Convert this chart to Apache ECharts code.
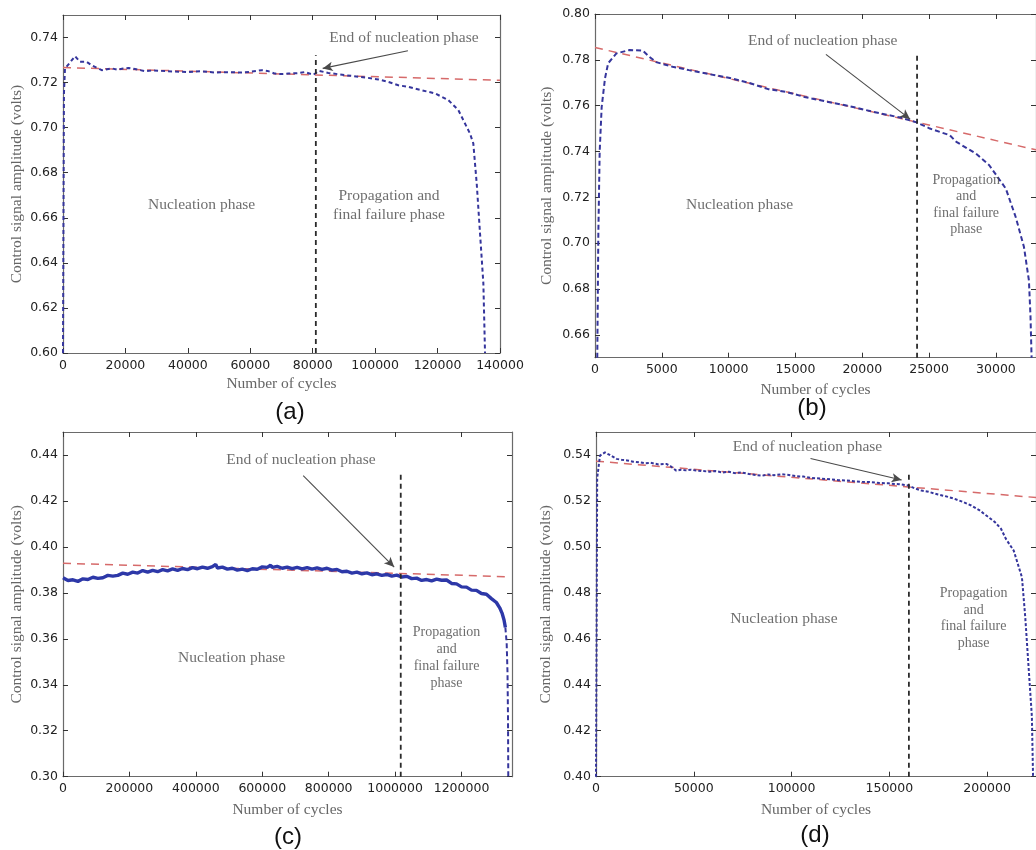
<!DOCTYPE html>
<html><head><meta charset="utf-8">
<script src="https://cdn.jsdelivr.net/npm/echarts@6/dist/echarts.min.js"></script>
<style>html,body{margin:0;padding:0;background:#fff}#c{width:1036px;height:850px}</style>
</head><body><div id="c"></div>
<script>
// ---------- Panel (a) ----------
const aXTicks = [0,20000,40000,60000,80000,100000,120000,140000];
const aYTicks = [0.60,0.62,0.64,0.66,0.68,0.70,0.72,0.74];
const aSignal = [[0,0.600],[150,0.660],[300,0.715],[640,0.7263],[2000,0.7285],[3844,0.7317],[5450,0.7292],[7590,0.7292],[9190,0.7277],[12400,0.7255],[15600,0.7263],[17500,0.7257],[19300,0.7263],[21000,0.7265],[23070,0.7260],[26270,0.7251],[29000,0.7254],[32680,0.7251],[36000,0.7249],[40150,0.7247],[44000,0.7250],[48700,0.7245],[52000,0.7246],[57250,0.7245],[60000,0.7248],[63650,0.7255],[65500,0.7252],[67900,0.7240],[70000,0.7238],[72180,0.7240],[75000,0.7242],[77520,0.7247],[80200,0.7235],[82000,0.7252],[85000,0.7243],[90350,0.7233],[96760,0.7223],[101030,0.7214],[104240,0.7203],[107440,0.7188],[110650,0.7181],[114920,0.7166],[119190,0.7152],[123460,0.7122],[126660,0.7078],[128260,0.7033],[130380,0.6974],[131450,0.6930],[132540,0.6752],[133600,0.6531],[134670,0.6309],[135200,0.6000]];
const aTrend = [[0,0.7267],[140000,0.7210]];
const aPhaseEnd = [[81000,0.600],[81000,0.7321]];
const aArrow = [[110500,0.7341],[83200,0.7263]];
const aTexts = [[109240,0.7398,'End of nucleation phase'],[44400,0.6656,'Nucleation phase'],[104440,0.6656,'Propagation and\nfinal failure phase']];

// ---------- Panel (b) ----------
const bXTicks = [0,5000,10000,15000,20000,25000,30000];
const bYTicks = [0.66,0.68,0.70,0.72,0.74,0.76,0.78,0.80];
const bSignal = [[170,0.6500],[250,0.7040],[350,0.7400],[500,0.7595],[750,0.7720],[985,0.7785],[1600,0.7828],[2600,0.7843],[3580,0.7840],[4070,0.7813],[4570,0.7790],[5800,0.7770],[7040,0.7755],[8500,0.7738],[10000,0.7722],[11500,0.7700],[12960,0.7672],[14300,0.7660],[15680,0.7638],[17300,0.7618],[18890,0.7600],[20100,0.7583],[21360,0.7566],[22840,0.7548],[24070,0.7527],[25060,0.7500],[26540,0.7471],[27040,0.7442],[28520,0.7390],[29500,0.7340],[30120,0.7289],[30740,0.7238],[31480,0.7114],[32100,0.6983],[32470,0.6837],[32590,0.6677],[32670,0.6500]];
const bTrend = [[0,0.7854],[33000,0.7407]];
const bPhaseEnd = [[24100,0.650],[24100,0.7825]];
const bArrow = [[17280,0.7824],[23580,0.7541]];
const bTexts = [[17037,0.7883,'End of nucleation phase'],[10815,0.7168,'Nucleation phase']];
const bProp = [[27778,0.7167,'Propagation\nand\nfinal failure\nphase']];

// ---------- Panel (c) ----------
const cXTicks = [0,200000,400000,600000,800000,1000000,1200000];
const cYTicks = [0.30,0.32,0.34,0.36,0.38,0.40,0.42,0.44];
const cSignal = [[0,0.3866],[15000,0.3854],[30000,0.3857],[45000,0.3850],[60000,0.3861],[75000,0.3858],[90000,0.3868],[105000,0.3863],[120000,0.3866],[135000,0.3876],[150000,0.3873],[165000,0.3876],[180000,0.3886],[195000,0.3881],[210000,0.3890],[225000,0.3886],[240000,0.3897],[255000,0.3890],[270000,0.3898],[285000,0.3892],[300000,0.3901],[315000,0.3896],[330000,0.3904],[345000,0.3898],[360000,0.3906],[375000,0.3901],[390000,0.3910],[405000,0.3905],[420000,0.3912],[435000,0.3907],[450000,0.3914],[460000,0.3924],[465000,0.3908],[480000,0.3912],[495000,0.3903],[510000,0.3907],[525000,0.3899],[540000,0.3903],[555000,0.3897],[570000,0.3905],[585000,0.3903],[600000,0.3913],[615000,0.3911],[625000,0.3920],[630000,0.3911],[645000,0.3915],[660000,0.3907],[675000,0.3912],[690000,0.3905],[705000,0.3911],[720000,0.3904],[735000,0.3910],[750000,0.3903],[765000,0.3909],[780000,0.3902],[795000,0.3907],[810000,0.3899],[825000,0.3902],[840000,0.3892],[855000,0.3894],[870000,0.3886],[885000,0.3890],[900000,0.3883],[915000,0.3887],[930000,0.3879],[945000,0.3883],[960000,0.3876],[975000,0.3880],[990000,0.3873],[1005000,0.3877],[1020000,0.3869],[1035000,0.3872],[1050000,0.3862],[1065000,0.3864],[1080000,0.3854],[1095000,0.3858],[1110000,0.3852],[1125000,0.3860],[1140000,0.3855],[1155000,0.3856],[1170000,0.3841],[1185000,0.3839],[1200000,0.3826],[1215000,0.3825],[1230000,0.3812],[1245000,0.3811],[1260000,0.3797],[1275000,0.3794],[1290000,0.3775],[1305000,0.3758],[1315000,0.3735],[1322000,0.3712],[1328000,0.3682],[1332000,0.3650]];
const cTail = [[1332000,0.3650],[1336000,0.3580],[1338500,0.3450],[1340000,0.3250],[1340800,0.3000]];
const cTrend = [[0,0.3929],[1345000,0.3870]];
const cPhaseEnd = [[1017000,0.300],[1017000,0.4324]];
const cArrow = [[723300,0.4310],[997300,0.3912]];
const cTexts = [[716300,0.4378,'End of nucleation phase'],[507800,0.3518,'Nucleation phase']];
const cProp = [[1154900,0.3518,'Propagation\nand\nfinal failure\nphase']];

// ---------- Panel (d) ----------
const dXTicks = [0,50000,100000,150000,200000];
const dYTicks = [0.40,0.42,0.44,0.46,0.48,0.50,0.52,0.54];
const dSignal = [[0,0.4000],[300,0.4600],[600,0.5300],[2034,0.5397],[4577,0.5411],[7000,0.5400],[10530,0.5383],[13000,0.5379],[16000,0.5376],[19000,0.5371],[22380,0.5368],[25000,0.5364],[28000,0.5366],[32000,0.5359],[35950,0.5361],[38000,0.5352],[41030,0.5332],[43500,0.5336],[46000,0.5333],[48500,0.5336],[51200,0.5332],[55000,0.5330],[58000,0.5327],[61000,0.5330],[64760,0.5324],[68000,0.5327],[71000,0.5321],[74500,0.5324],[78320,0.5317],[81500,0.5313],[85100,0.5310],[88000,0.5315],[91000,0.5312],[95000,0.5316],[98660,0.5313],[102000,0.5308],[106000,0.5306],[110500,0.5300],[115600,0.5297],[120000,0.5294],[124000,0.5290],[128000,0.5289],[132550,0.5285],[136000,0.5283],[140000,0.5282],[145000,0.5278],[149500,0.5277],[152500,0.5274],[155000,0.5273],[159700,0.5267],[163000,0.5255],[166450,0.5245],[170000,0.5240],[174930,0.5228],[179000,0.5220],[183400,0.5209],[187500,0.5196],[191900,0.5180],[196000,0.5160],[200300,0.5132],[204000,0.5108],[207100,0.5079],[209600,0.5035],[213600,0.4984],[217800,0.4868],[219500,0.4695],[221200,0.4478],[222900,0.4261],[223500,0.4000]];
const dTrend = [[0,0.5373],[225000,0.5215]];
const dPhaseEnd = [[160000,0.400],[160000,0.5322]];
const dArrow = [[109700,0.5385],[156300,0.5291]];
const dTexts = [[108150,0.5436,'End of nucleation phase'],[96100,0.4688,'Nucleation phase']];
const dProp = [[193080,0.4689,'Propagation\nand\nfinal failure\nphase']];

const captions = ['(a)','(b)','(c)','(d)'];

// ---------- layout / style ----------
const grids = [
  {left:63, top:15, width:437, height:338},
  {left:595, top:14, width:445.5, height:343.7},
  {left:63, top:432, width:449, height:344.7},
  {left:596, top:432, width:442.5, height:344.7}
];
const ranges = [
  {x:[0,140000], y:[0.60,0.75], xt:aXTicks, yt:aYTicks, yGap:38, xGap:23},
  {x:[0,33000], y:[0.65,0.80], xt:bXTicks, yt:bYTicks, yGap:40, xGap:24},
  {x:[0,1352000], y:[0.30,0.45], xt:cXTicks, yt:cYTicks, yGap:38, xGap:25},
  {x:[0,225000], y:[0.40,0.55], xt:dXTicks, yt:dYTicks, yGap:42, xGap:25}
];
const SERIF = 'Liberation Serif';
const FRAME = {color:'#6a6a6a', width:1.2};
const TICK = {color:'#333', width:1};
const BLUE = '#35359c', RED = '#d66a6a', DARK = '#2a2a2a', TXT = '#4a4a4a';

const xAxes = [], yAxes = [];
ranges.forEach((r,i) => {
  xAxes.push({type:'value', gridIndex:i, position:'bottom', min:r.x[0], max:r.x[1],
    name:'Number of cycles', nameLocation:'middle', nameGap:r.xGap,
    nameTextStyle:{fontFamily:SERIF, fontSize:15.5, color:'#666'},
    axisLine:{show:true, onZero:false, lineStyle:FRAME},
    axisTick:{show:true, inside:true, length:5, customValues:r.xt, lineStyle:TICK},
    axisLabel:{show:true, customValues:r.xt, formatter:v=>String(v), fontFamily:'DejaVu Sans', fontSize:12.5, color:'#222', margin:6},
    splitLine:{show:false}});
  xAxes.push({type:'value', gridIndex:i, position:'top', min:r.x[0], max:r.x[1],
    axisLine:{show:true, onZero:false, lineStyle:FRAME},
    axisTick:{show:true, inside:true, length:5, customValues:r.xt, lineStyle:TICK},
    axisLabel:{show:false}, splitLine:{show:false}});
  yAxes.push({type:'value', gridIndex:i, position:'left', min:r.y[0], max:r.y[1],
    name:'Control signal amplitude (volts)', nameLocation:'middle', nameGap:r.yGap, nameRotate:90,
    nameTextStyle:{fontFamily:SERIF, fontSize:15.5, color:'#666'},
    axisLine:{show:true, onZero:false, lineStyle:FRAME},
    axisTick:{show:true, inside:true, length:5, customValues:r.yt, lineStyle:TICK},
    axisLabel:{show:true, customValues:r.yt, formatter:v=>v.toFixed(2), fontFamily:'DejaVu Sans', fontSize:12.5, color:'#222', margin:5},
    splitLine:{show:false}});
  yAxes.push({type:'value', gridIndex:i, position:'right', min:r.y[0], max:r.y[1],
    axisLine:{show:true, onZero:false, lineStyle:FRAME},
    axisTick:{show:true, inside:true, length:5, customValues:r.yt, lineStyle:TICK},
    axisLabel:{show:false}, splitLine:{show:false}});
});

function lineSeries(i, data, color, width, dash, z) {
  return {type:'line', xAxisIndex:2*i, yAxisIndex:2*i, data:data, showSymbol:false, symbol:'none',
    lineStyle:{color:color, width:width, type:dash}, silent:true, animation:false, z:z||2};
}
function textSeries(i, texts, size, lh, arrow) {
  const s = {type:'scatter', xAxisIndex:2*i, yAxisIndex:2*i, data:texts, symbolSize:0, silent:true, animation:false, z:5,
    label:{show:true, position:'inside', formatter:p=>p.data[2], fontFamily:SERIF, fontSize:size, lineHeight:lh, color:TXT, align:'center'}};
  if (arrow) {
    s.markLine = {silent:true, animation:false, symbol:['none','arrow'], symbolSize:[7,10],
      label:{show:false}, lineStyle:{color:'#4a4a4a', width:1.1, type:'solid'},
      data:[[{coord:arrow[0]},{coord:arrow[1]}]]};
  }
  return s;
}

const series = [
  lineSeries(0, aTrend, RED, 1.5, [8,6], 1),
  lineSeries(0, aSignal, BLUE, 2, [4,3], 2),
  lineSeries(0, aPhaseEnd, DARK, 1.8, [5,4], 3),
  textSeries(0, aTexts, 15.5, 19, aArrow),

  lineSeries(1, bTrend, RED, 1.5, [8,6], 1),
  lineSeries(1, bSignal, BLUE, 2, [5,3], 2),
  lineSeries(1, bPhaseEnd, DARK, 1.8, [5,4], 3),
  textSeries(1, bTexts, 15.5, 19, bArrow),
  textSeries(1, bProp, 14, 16.5, null),

  lineSeries(2, cTrend, RED, 1.5, [8,6], 1),
  lineSeries(2, cSignal, '#2d38a8', 3.4, 'solid', 2),
  lineSeries(2, cTail, BLUE, 2, [5,3], 2),
  lineSeries(2, cPhaseEnd, DARK, 1.8, [5,4], 3),
  textSeries(2, cTexts, 15.5, 19, cArrow),
  textSeries(2, cProp, 14, 16.8, null),

  lineSeries(3, dTrend, RED, 1.5, [8,6], 1),
  lineSeries(3, dSignal, BLUE, 2, [3,2], 2),
  lineSeries(3, dPhaseEnd, DARK, 1.8, [5,4], 3),
  textSeries(3, dTexts, 15.5, 19, dArrow),
  textSeries(3, dProp, 14, 16.7, null)
];

const capPos = [[290,412],[812,408],[288,837],[815,835]];
const graphic = captions.map((t,i)=>({type:'text', x:capPos[i][0], y:capPos[i][1], silent:true,
  style:{text:t, align:'center', verticalAlign:'middle', fontSize:24, fontFamily:'Liberation Sans', fill:'#111'}}));

const chart = echarts.init(document.getElementById('c'), null, {renderer:'canvas'});
chart.setOption({animation:false, backgroundColor:'#fff', grid:grids, xAxis:xAxes, yAxis:yAxes, series:series, graphic:graphic});
</script>
</body></html>
